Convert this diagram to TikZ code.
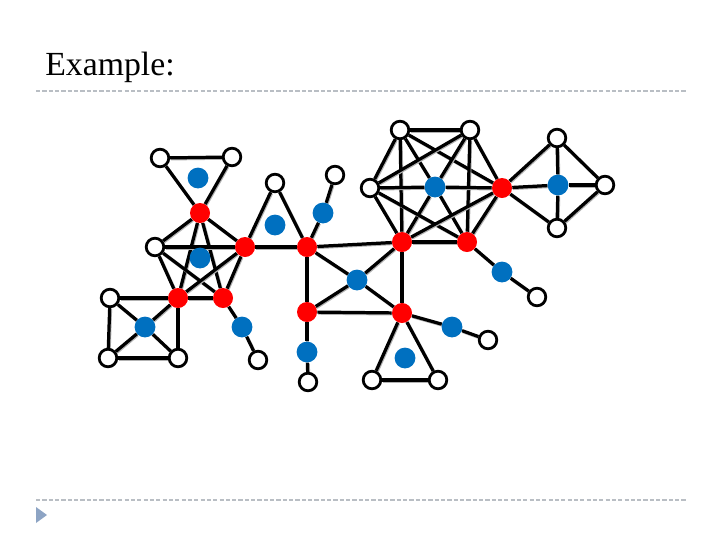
\documentclass[tikz,border=0pt]{standalone}
\usepackage{fontspec}
\setmainfont{Liberation Serif}
\usetikzlibrary{backgrounds}
\definecolor{hubred}{RGB}{255,0,0}
\definecolor{edgeblue}{RGB}{0,112,192}
\definecolor{rulegray}{RGB}{185,190,196}
\definecolor{bulletgray}{RGB}{141,164,196}

\begin{document}
\begin{tikzpicture}[x=0.025cm, y=-0.025cm,
    wnode/.style={circle, draw, line width=2pt, fill=white, minimum size=0.44cm, inner sep=0pt},
    rnode/.style={circle, fill=hubred, minimum size=0.5cm, inner sep=0pt},
    bnode/.style={circle, fill=edgeblue, minimum size=0.52cm, inner sep=0pt},
    link/.style={line width=2.3pt, black,
        preaction={draw=gray!60, line width=2.3pt, transform canvas={shift={(0.6pt,-0.7pt)}}}},
    rule/.style={rulegray, line width=0.8pt, dash pattern=on 3pt off 1.5pt}
]
\useasboundingbox (0,0) rectangle (720,540);

% header and footer
\node[anchor=base west, font=\fontsize{24}{28}\selectfont, inner sep=0pt] (title) at (45,75) {Example:};
\draw[rule] (36,91) -- (686,91);
\draw[rule] (36,500) -- (686,500);
\fill[bulletgray] (36,507) -- (47,515) -- (36,523) -- cycle;

% left part
\node[wnode] (wA) at (160,158) {};
\node[wnode] (wB) at (232,157) {};
\node[bnode] (bT) at (198,178) {};
\node[rnode] (r1) at (200,213) {};
\node[wnode] (w3) at (155,247) {};
\node[rnode] (r2) at (245,247) {};
\node[bnode] (bP) at (200,258) {};
\node[rnode] (r3) at (178,298) {};
\node[rnode] (r4) at (223,298) {};
\node[wnode] (w4) at (110,298) {};
\node[bnode] (bS) at (145,327) {};
\node[wnode] (w5) at (108,358) {};
\node[wnode] (w6) at (178,358) {};
\node[bnode] (bQ) at (242,327) {};
\node[wnode] (w7) at (258,360) {};

% middle part
\node[wnode] (w8) at (275,183) {};
\node[bnode] (bU) at (275,225) {};
\node[rnode] (r5) at (307,247) {};
\node[bnode] (bV) at (323,213) {};
\node[wnode] (w9) at (335,175) {};
\node[rnode] (r6) at (402,242) {};
\node[bnode] (bM) at (357,280) {};
\node[rnode] (r7) at (307,312) {};
\node[rnode] (r8) at (402,313) {};
\node[bnode] (bW) at (307,352) {};
\node[wnode] (w10) at (308,382) {};
\node[bnode] (bX) at (452,327) {};
\node[wnode] (w11) at (488,340) {};
\node[bnode] (bY) at (405,358) {};
\node[wnode] (w12) at (372,380) {};
\node[wnode] (w13) at (438,380) {};

% right part
\node[wnode] (w14) at (400,130) {};
\node[wnode] (w15) at (470,130) {};
\node[wnode] (w16) at (370,188) {};
\node[bnode] (bH) at (435,187) {};
\node[rnode] (r9) at (502,188) {};
\node[rnode] (r10) at (467,242) {};
\node[bnode] (bZ) at (502,272) {};
\node[wnode] (w17) at (537,297) {};
\node[wnode] (w18) at (557,138) {};
\node[bnode] (bD) at (558,185) {};
\node[wnode] (w19) at (605,185) {};
\node[wnode] (w20) at (557,228) {};

\begin{scope}[on background layer]
\foreach \a/\b in {wA/wB, wA/r1, wB/r1,
    r1/w3, r1/r2, r1/r3, r1/r4, w3/r2, w3/r3, w3/r4, r2/r3, r2/r4, r3/r4,
    w4/r3, w4/w5, w5/w6, w6/r3, w4/bS, bS/w6, w5/bS, bS/r3,
    r4/bQ, bQ/w7, w8/r2, w8/r5, r2/r5, r5/bV, bV/w9,
    r5/r6, r5/r7, r7/r8, r6/r8, r5/bM, bM/r8, r6/bM, bM/r7,
    r7/bW, bW/w10, r8/bX, bX/w11, r8/w12, r8/w13, w12/w13,
    w14/w15, w14/w16, w14/r6, w14/r9, w14/bH, bH/r10,
    w15/w16, w15/r10, w15/r9, w15/bH, bH/r6,
    w16/r6, w16/r10, w16/bH, bH/r9, r6/r10, r6/r9, r10/r9,
    r10/bZ, bZ/w17,
    r9/w18, w18/w19, w19/w20, w20/r9, r9/bD, bD/w19, w18/bD, bD/w20}
  \draw[link] (\a) -- (\b);
\end{scope}
\end{tikzpicture}
\end{document}
